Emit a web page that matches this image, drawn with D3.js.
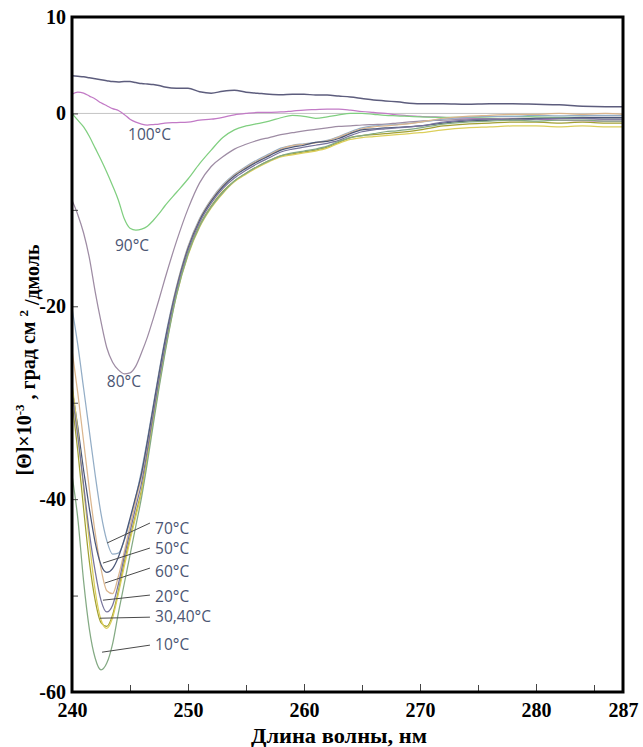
<!DOCTYPE html>
<html>
<head>
<meta charset="utf-8">
<script src="https://cdn.jsdelivr.net/npm/d3@7"></script>
<style>
  html, body { margin: 0; padding: 0; background: #fff; }
  svg { display: block; }
</style>
</head>
<body>
<svg id="chart" width="643" height="747"></svg>
<script>
// ---------------- DATA ----------------
const wavelengths = [240,240.5,241,241.5,242,242.5,243,243.5,244,244.5,245,245.5,
  246,246.5,247,247.5,248,
  249,250,251,252,253,254,255,256,257,258,259,260,261,262,263,264,265,266,267,268,
  270,272,274,276,278,280,282,284,286,287.5];

const seriesTop = [3.9,3.85,3.8,3.7,3.6,3.5,3.4,3.3,3.25,3.3,3.3,3.2,
  3.1,3.05,3.0,2.9,2.75,
  2.6,2.6,2.25,2.1,2.3,2.4,2.2,2.1,2.0,1.95,2.0,2.0,1.9,1.9,1.8,1.7,1.55,1.4,1.3,1.2,
  1.0,1.0,0.95,1.0,1.0,0.95,0.9,0.75,0.7,0.7];

const series100 = [2.0,2.2,2.1,1.8,1.5,1.1,0.8,0.5,0.3,-0.1,-0.6,-0.9,
  -1.1,-1.2,-1.15,-1.1,-1.0,
  -0.95,-0.9,-0.7,-0.6,-0.4,-0.15,0.0,0.1,0.1,0.15,0.25,0.35,0.4,0.45,0.45,0.35,0.2,0.1,0.0,-0.15,
  -0.3,-0.4,-0.5,-0.55,-0.6,-0.6,-0.7,-0.75,-0.8,-0.8];

const series90 = [0,-0.7,-1.4,-2.4,-3.6,-4.8,-6.1,-7.5,-9.0,-10.9,-11.9,-12.1,
  -12.0,-11.7,-11.1,-10.4,-9.6,
  -8.2,-6.8,-5.2,-3.8,-2.5,-1.7,-1.3,-1.05,-0.8,-0.45,-0.2,-0.3,-0.5,-0.35,-0.15,0.0,0.0,-0.1,-0.2,-0.25,
  -0.35,-0.4,-0.4,-0.35,-0.3,-0.35,-0.4,-0.4,-0.45,-0.45];

const series80 = [-9.0,-10.5,-12.4,-15,-18.5,-21.6,-24.3,-25.8,-26.6,-27.0,-26.9,-26.2,
  -24.8,-23.2,-21.3,-19.3,-17.2,
  -13.3,-9.9,-7.2,-5.5,-4.5,-3.7,-3.2,-2.8,-2.5,-2.2,-2.0,-1.8,-1.65,-1.5,-1.35,-1.3,-1.2,-1.15,-1.1,-1.0,
  -0.8,-0.7,-0.6,-0.55,-0.5,-0.5,-0.5,-0.55,-0.6,-0.6];

const series70 = [-20.2,-24,-28.5,-33,-37.5,-41.5,-44.3,-45.7,-45.6,-44.3,-42.2,-39.8,
  -37.0,-33.8,-30.3,-26.8,-23.5,
  -18.0,-13.8,-10.9,-8.9,-7.4,-6.3,-5.5,-4.8,-4.2,-3.6,-3.3,-3.15,-3.0,-2.8,-2.4,-1.9,-1.5,-1.3,-1.2,-1.15,
  -0.9,-0.6,-0.4,-0.3,-0.3,-0.2,-0.25,-0.2,-0.2,-0.2];

const series60 = [-24.5,-29,-34,-39,-43.5,-47.2,-49.5,-49.8,-48,-45.5,-42.8,-40.2,
  -37.6,-34.3,-30.7,-27.1,-23.8,
  -18.1,-13.9,-11.0,-9.0,-7.5,-6.4,-5.6,-4.9,-4.3,-3.7,-3.35,-3.2,-3.05,-2.85,-2.45,-2.0,-1.6,-1.4,-1.3,-1.2,
  -0.9,-0.5,-0.3,-0.2,-0.1,-0.1,0,-0.1,0,-0.1];

const series50 = [-28.5,-32.5,-37,-41,-44.5,-46.8,-47.6,-47.2,-46.0,-44.2,-42.0,-39.7,
  -37.3,-34.0,-30.5,-27.0,-23.7,
  -18.2,-14.0,-11.1,-9.1,-7.6,-6.5,-5.7,-5.0,-4.4,-3.8,-3.5,-3.3,-3.0,-2.9,-2.6,-2.1,-1.7,-1.6,-1.5,-1.45,
  -1.3,-1.0,-0.8,-0.7,-0.6,-0.5,-0.5,-0.4,-0.4,-0.4];

const series40 = [-30,-35,-41,-46.5,-50.5,-52.8,-53.2,-52,-49.5,-46.6,-44.0,-41.5,
  -39.0,-35.5,-31.7,-28.0,-24.6,
  -18.7,-14.5,-11.6,-9.6,-8.1,-7.0,-6.2,-5.5,-4.9,-4.4,-4.2,-4.0,-3.8,-3.5,-3.0,-2.5,-2.3,-2.2,-2.1,-2.0,
  -1.7,-1.3,-1.1,-1.0,-0.9,-0.9,-1.0,-0.9,-1.0,-1.0];

const series30 = [-28,-33,-39,-44.5,-49.5,-52.5,-53.4,-52.3,-49.8,-47.0,-44.3,-41.8,
  -39.3,-35.7,-31.9,-28.2,-24.8,
  -18.9,-14.7,-11.8,-9.8,-8.3,-7.1,-6.3,-5.6,-5.0,-4.5,-4.3,-4.1,-3.9,-3.6,-3.1,-2.7,-2.5,-2.4,-2.3,-2.2,
  -2.0,-1.7,-1.5,-1.4,-1.3,-1.3,-1.4,-1.3,-1.4,-1.4];

const series20 = [-29,-33.5,-38.5,-43.5,-47.5,-50.5,-51.7,-51,-48.8,-46.0,-43.4,-40.8,
  -38.3,-34.9,-31.2,-27.6,-24.2,
  -18.4,-14.2,-11.3,-9.3,-7.8,-6.7,-5.9,-5.2,-4.6,-4.0,-3.7,-3.5,-3.3,-3.1,-2.8,-2.3,-1.9,-1.7,-1.6,-1.5,
  -1.3,-0.9,-0.7,-0.6,-0.7,-0.6,-0.5,-0.5,-0.6,-0.6];

const series10 = [-37.5,-42,-48.5,-53.5,-56.5,-57.7,-57.0,-55.0,-51.8,-48.8,-45.8,-42.8,
  -39.8,-36.2,-32.3,-28.5,-25.0,
  -18.9,-14.6,-11.7,-9.7,-8.2,-7.0,-6.2,-5.5,-4.9,-4.4,-4.1,-3.9,-3.7,-3.4,-2.9,-2.5,-2.3,-2.1,-1.9,-1.8,
  -1.5,-1.1,-0.9,-0.8,-0.7,-0.8,-0.7,-0.7,-0.8,-0.8];

const seriesNames = ["top","100","90","80","70","60","50","40","30","20","10"];
const seriesValues = [seriesTop, series100, series90, series80, series70, series60,
                      series50, series40, series30, series20, series10];

const xTickValues = [240, 250, 260, 270, 280, 287.5];
const xTickLabels = ["240", "250", "260", "270", "280", "287"];
const xMinorTicks = [245, 255, 265, 275, 285];
const yTickValues = [10, 0, -20, -40, -60];
const yTickLabels = ["10", "0", "-20", "-40", "-60"];
const yMinorTicks = [-10, -30, -50];

// curve labels: text anchor (wavelength, value) and optional leader line
const curveLabels = [
  {text: "100°C",   x: 244.83, y: -2.76},
  {text: "90°C",    x: 243.7,  y: -14.27},
  {text: "80°C",    x: 243.0,  y: -28.4},
  {text: "70°C",    x: 247.16, y: -43.6,  l: [246.72, -42.48, 243.02, -44.55]},
  {text: "50°C",    x: 247.16, y: -45.74, l: [246.72, -45.07, 242.67, -46.63]},
  {text: "60°C",    x: 247.16, y: -48.06, l: [246.72, -47.15, 242.84, -48.7]},
  {text: "20°C",    x: 247.16, y: -50.66, l: [246.72, -49.95, 242.67, -50.48]},
  {text: "30,40°C", x: 247.16, y: -52.75, l: [246.72, -52.24, 242.41, -52.35]},
  {text: "10°C",    x: 247.16, y: -55.65, l: [246.72, -55.14, 242.59, -55.87]}
];

// ---------------- STYLE ----------------
const colors = {
  top: "#5d5d7d", "100": "#c27ac6", "90": "#80cf80", "80": "#9e8ca4",
  "70": "#93adc6", "60": "#dbb68e", "50": "#4c5878", "40": "#a2a032",
  "30": "#dccf5a", "20": "#77749c", "10": "#84aa84"
};

// ---------------- CHART ----------------
const svg = d3.select("#chart");
const m = {left: 72, top: 17, right: 623, bottom: 692};

const x = d3.scaleLinear().domain([240, 287.5]).range([m.left, m.right]);
const y = d3.scaleLinear().domain([-60, 10]).range([m.bottom, m.top]);

svg.append("clipPath").attr("id", "clip")
  .append("rect").attr("x", m.left).attr("y", m.top)
  .attr("width", m.right - m.left).attr("height", m.bottom - m.top);

// zero line
svg.append("line")
  .attr("x1", m.left).attr("x2", m.right)
  .attr("y1", y(0)).attr("y2", y(0))
  .attr("stroke", "#c4c4c4").attr("stroke-width", 1);

const line = d3.line()
  .x((d, i) => x(wavelengths[i]))
  .y(d => y(d))
  .curve(d3.curveMonotoneX);

const g = svg.append("g").attr("clip-path", "url(#clip)");
seriesNames.forEach((name, k) => {
  g.append("path")
    .datum(seriesValues[k])
    .attr("d", line)
    .attr("fill", "none")
    .attr("stroke", colors[name])
    .attr("stroke-width", name === "top" ? 1.5 : 1.25)
    .attr("stroke-linejoin", "round");
});

// axes
const serif = "'Liberation Serif', 'Times New Roman', serif";
const xAxis = svg.append("g")
  .attr("transform", `translate(0,${m.bottom})`)
  .call(d3.axisBottom(x).tickValues(xTickValues)
    .tickFormat((d, i) => xTickLabels[i]).tickSize(-8).tickPadding(11));
xAxis.select(".domain").remove();
xAxis.selectAll("text").attr("font-family", serif).attr("font-weight", "bold")
  .attr("font-size", 20).attr("fill", "#000");
xAxis.selectAll(".tick line").attr("stroke", "#444").attr("stroke-width", 1)
  .filter(d => d === 287.5 || d === 240).remove();

const xMinor = svg.append("g")
  .attr("transform", `translate(0,${m.bottom})`)
  .call(d3.axisBottom(x).tickValues(xMinorTicks).tickFormat("").tickSize(-7));
xMinor.select(".domain").remove();
xMinor.selectAll(".tick line").attr("stroke", "#444").attr("stroke-width", 1);

const yAxis = svg.append("g")
  .attr("transform", `translate(${m.left},0)`)
  .call(d3.axisLeft(y).tickValues(yTickValues)
    .tickFormat((d, i) => yTickLabels[i]).tickSize(-6).tickPadding(6));
yAxis.select(".domain").remove();
yAxis.selectAll("text").attr("font-family", serif).attr("font-weight", "bold")
  .attr("font-size", 20).attr("fill", "#000");
yAxis.selectAll(".tick line").attr("stroke", "#444").attr("stroke-width", 1);

const yMinor = svg.append("g")
  .attr("transform", `translate(${m.left},0)`)
  .call(d3.axisLeft(y).tickValues(yMinorTicks).tickFormat("").tickSize(-6));
yMinor.select(".domain").remove();
yMinor.selectAll(".tick line").attr("stroke", "#444").attr("stroke-width", 1);

// frame
svg.append("rect")
  .attr("x", m.left).attr("y", m.top)
  .attr("width", m.right - m.left).attr("height", m.bottom - m.top)
  .attr("fill", "none").attr("stroke", "#000").attr("stroke-width", 3);

// axis titles
svg.append("text")
  .attr("x", 339).attr("y", 743)
  .attr("text-anchor", "middle")
  .attr("font-family", serif).attr("font-weight", "bold").attr("font-size", 21)
  .attr("textLength", 176).attr("lengthAdjust", "spacingAndGlyphs")
  .text("Длина волны, нм");

const yt = svg.append("text")
  .attr("transform", "translate(31,360) rotate(-90)")
  .attr("text-anchor", "middle")
  .attr("font-family", serif).attr("font-weight", "bold").attr("font-size", 20);
yt.append("tspan").text("[Θ]×10");
yt.append("tspan").attr("dy", "-0.55em").attr("font-size", 13).text("-3");
yt.append("tspan").attr("dy", "0.55em").text(" , град см ");
yt.append("tspan").attr("dy", "-0.55em").attr("font-size", 13).text("2");
yt.append("tspan").attr("dy", "0.55em").text(" /дмоль");

// curve labels
const lab = svg.append("g");
curveLabels.forEach(c => {
  if (c.l) {
    lab.append("line")
      .attr("x1", x(c.l[0])).attr("y1", y(c.l[1]))
      .attr("x2", x(c.l[2])).attr("y2", y(c.l[3]))
      .attr("stroke", "#4a4a4a").attr("stroke-width", 1);
  }
  lab.append("text")
    .attr("x", x(c.x)).attr("y", y(c.y))
    .attr("font-family", "'Open Sans', 'Noto Sans', sans-serif")
    .attr("font-size", 15.5).attr("fill", "#4b5573")
    .text(c.text);
});
</script>
</body>
</html>
